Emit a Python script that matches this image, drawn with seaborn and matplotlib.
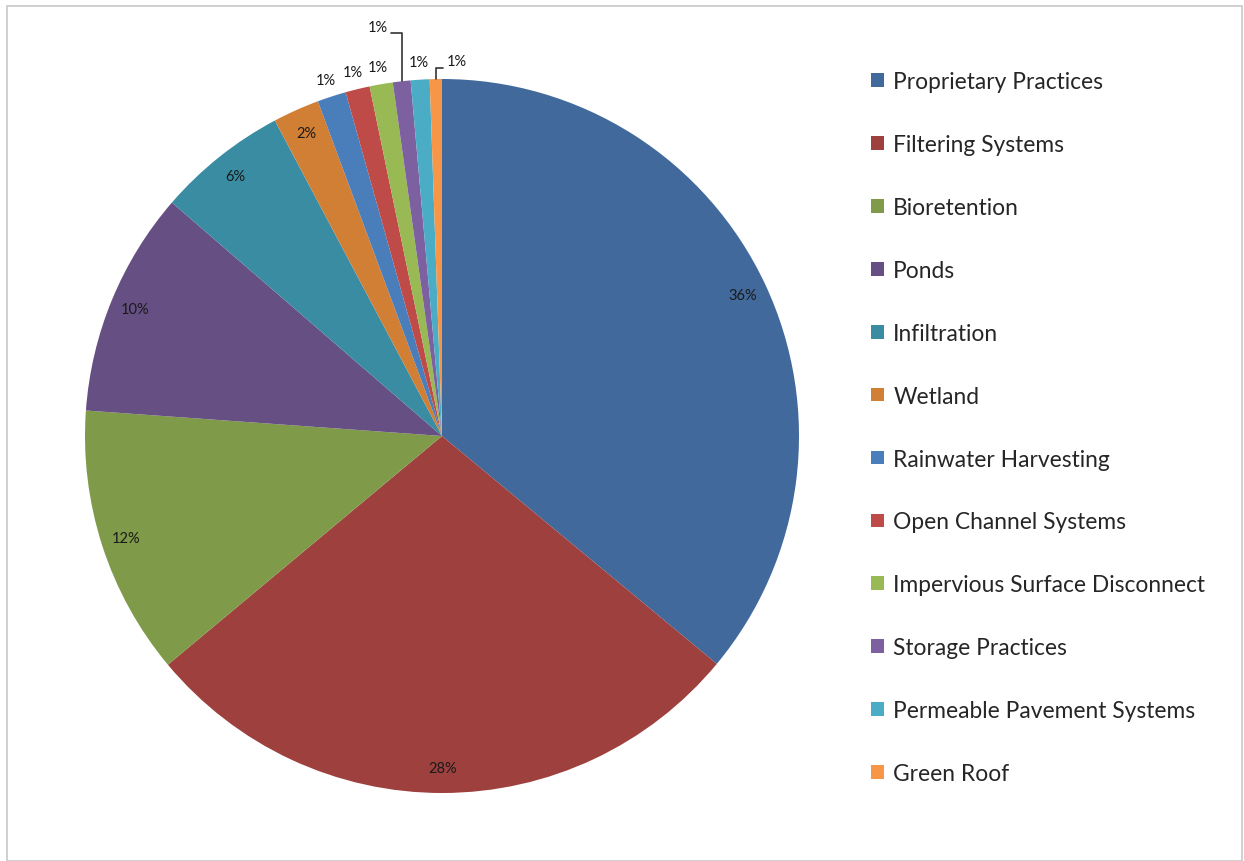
import numpy as np
import seaborn as sns
import matplotlib.pyplot as plt
from matplotlib.patches import Rectangle

sns.set_theme(style="white")
plt.rcParams['font.family'] = ['Lato', 'DejaVu Sans']

# data (percent share of practices)
categories = ['Proprietary Practices', 'Filtering Systems', 'Bioretention', 'Ponds',
              'Infiltration', 'Wetland', 'Rainwater Harvesting', 'Open Channel Systems',
              'Impervious Surface Disconnect', 'Storage Practices',
              'Permeable Pavement Systems', 'Green Roof']
shares = [36.0, 27.9, 12.2, 10.2, 5.9, 2.1, 1.3, 1.1, 1.05, 0.8, 0.85, 0.55]

colors = ['#41699b', '#9e413e', '#7f9a48', '#664f82', '#3a8ca2', '#d07f35',
          '#4a7ebb', '#be4b48', '#98b954', '#7d60a0', '#4bacc6', '#f79646']

fig = plt.figure(figsize=(12.44, 8.62), dpi=100)
W, H = 1244, 862
# frame around the chart area
fig.patches.append(Rectangle((7 / W, 0), (1242 - 7) / W, (862 - 7) / H, transform=fig.transFigure,
                             fill=False, edgecolor='#c8c8c8', lw=1.2))

cx, cy, R = 442, 437, 357
ax = fig.add_axes([(cx - R) / W, (H - cy - R) / H, 2 * R / W, 2 * R / H])

wedges, _ = ax.pie(shares, colors=colors, startangle=90, counterclock=False,
                   radius=1, wedgeprops=dict(linewidth=0))
ax.set_xlim(-1, 1)
ax.set_ylim(-1, 1)
ax.set_aspect('equal')
ax.axis('off')

lab_fs = 10.5
total = sum(shares)
for i, w in enumerate(wedges):
    mid = np.deg2rad((w.theta1 + w.theta2) / 2)
    txt = '%.0f%%' % (shares[i] / total * 100)
    if shares[i] >= 2:
        x, y = 0.93 * np.cos(mid), 0.93 * np.sin(mid)
        ax.text(x, y, txt, ha='center', va='center', fontsize=lab_fs, color='#1a1a1a', clip_on=False)
    elif categories[i] == 'Storage Practices':
        ex, ey = np.cos(mid), np.sin(mid)
        ax.plot([ex, ex, ex - 0.03], [ey, 1.13, 1.13], color='#333333', lw=1.2, clip_on=False)
        ax.text(ex - 0.04, 1.145, txt, ha='right', va='center', fontsize=lab_fs, color='#1a1a1a', clip_on=False)
    elif categories[i] == 'Green Roof':
        ex, ey = np.cos(mid), np.sin(mid)
        ax.plot([ex, ex, ex + 0.02], [ey, 1.03, 1.03], color='#333333', lw=1.2, clip_on=False)
        ax.text(ex + 0.03, 1.05, txt, ha='left', va='center', fontsize=lab_fs, color='#1a1a1a', clip_on=False)
    else:
        x, y = 1.05 * np.cos(mid), 1.05 * np.sin(mid)
        ax.text(x, y, txt, ha='center', va='center', fontsize=lab_fs, color='#1a1a1a', clip_on=False)

leg = fig.legend(wedges, categories, loc='upper left', bbox_to_anchor=(862 / W, 1 - 63 / H),
                 frameon=False, fontsize=16.4, handlelength=0.55, handleheight=0.55,
                 handletextpad=0.42, labelspacing=1.84, borderaxespad=0)

fig.savefig('out.png', dpi=100)
